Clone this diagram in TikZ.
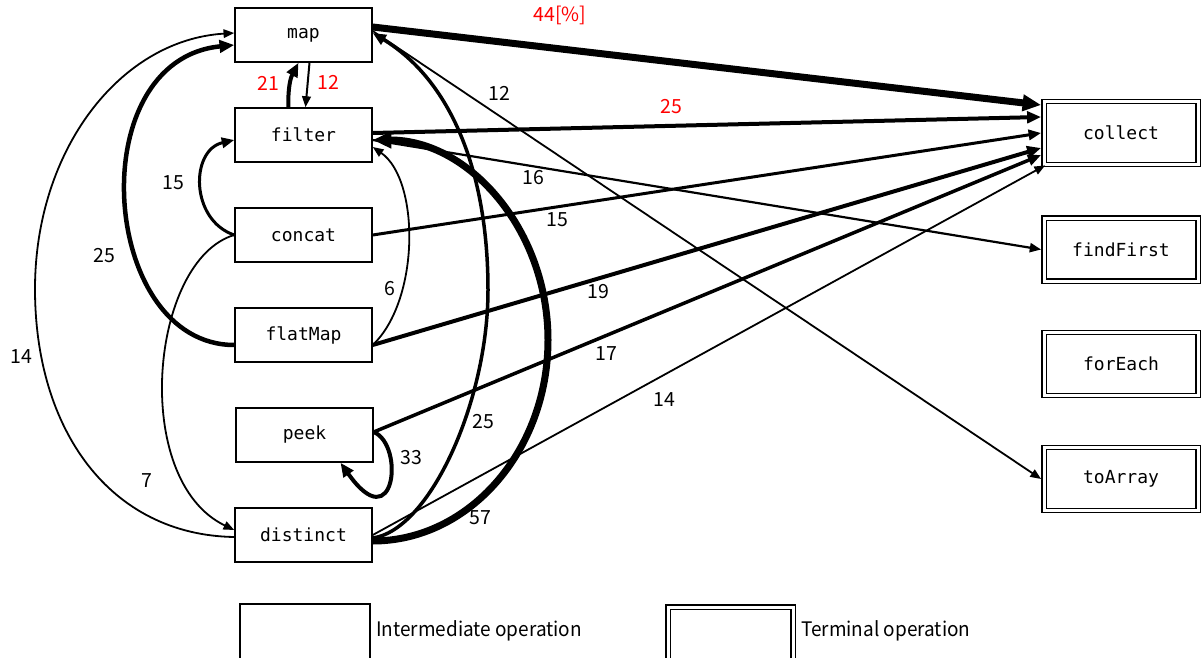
\documentclass[tikz,border=0pt]{standalone}
\usepackage{fontspec}
\usetikzlibrary{arrows.meta,calc}
\newfontfamily\monof{DejaVu Sans Mono}
\newfontfamily\lblf{Noto Sans CJK JP}
\newfontfamily\legf[FakeStretch=0.95]{Noto Sans CJK JP}
\begin{document}
\begin{tikzpicture}[x=1pt,y=-1pt,
  inter/.style={draw, line width=1.5pt, minimum width=137pt, minimum height=54pt, inner sep=0pt, font=\monof\fontsize{18}{20}\selectfont},
  term/.style={draw, double, line width=1.4pt, double distance=3pt, outer sep=2.9pt, minimum width=154pt, minimum height=63pt, inner sep=0pt, font=\monof\fontsize{18}{20}\selectfont},
  lbl/.style={font=\lblf\fontsize{19.5}{22}\selectfont, inner sep=0pt},
  rlbl/.style={lbl, text=red},
  edge/.style={-{Triangle[length=8pt 1.5, width=6pt 1.4]}, line width=#1},
  legtext/.style={font=\legf\fontsize{20}{22}\selectfont, inner sep=0pt, anchor=west}
]
\useasboundingbox (0,0) rectangle (1202,658);

% intermediate operations
\node[inter] (map)      at (303.5,35)  {map};
\node[inter] (filter)   at (303.5,135) {filter};
\node[inter] (concat)   at (303.5,235) {concat};
\node[inter] (flatMap)  at (303.5,335) {flatMap};
\node[inter] (peek)     at (304.5,435) {peek};
\node[inter] (distinct) at (303.5,535) {distinct};

% terminal operations
\node[term] (collect)   at (1121,133)   {collect};
\node[term] (findFirst) at (1121,249.5) {findFirst};
\node[term] (forEach)   at (1121,364)   {forEach};
\node[term] (toArray)   at (1121,479)   {toArray};

% edges
\draw[edge=7] ($(map.east)+(0,-8)$) -- ($(collect.west)+(0,-28)$);
\draw[edge=1.8] ($(map.east)+(0,-4)$) -- (toArray.west);
\draw[edge=4] ($(filter.north)+(-15,0)$) to[bend left=15] ($(map.south)+(-5,0)$);
\draw[edge=2] ($(map.south)+(6,0)$) -- ($(filter.north)+(2,0)$);
\draw[edge=4] ($(filter.east)+(0,-2)$) -- ($(collect.west)+(0,-16)$);
\draw[edge=2.2] ($(filter.east)+(0,5)$) -- (findFirst.west);
\draw[edge=3] (concat.west) .. controls (190,220) and (190,150) .. ($(filter.west)+(0,5)$);
\draw[edge=3] (concat.east) -- (collect.west);
\draw[edge=1.8] (concat.west) .. controls (150,260) and (130,480) .. ($(distinct.west)+(0,-5)$);
\draw[edge=4.5] ($(flatMap.west)+(0,10)$) .. controls (100,345) and (80,60) .. ($(map.west)+(0,10)$);
\draw[edge=1.8] ($(flatMap.east)+(0,10)$) .. controls (420,300) and (420,180) .. ($(filter.east)+(0,12)$);
\draw[edge=4] ($(flatMap.east)+(0,10)$) -- ($(collect.west)+(0,15)$);
\draw[edge=3.5] ($(peek.east)+(0,-3)$) -- ($(collect.west)+(0,22)$);
\draw[edge=4] ($(peek.east)+(0,-3)$) .. controls (405,445) and (395,540) .. ($(peek.south)+(36,0)$);
\draw[edge=3.5] ($(distinct.east)+(0,3)$) .. controls (430,530) and (488,401) .. (488,290)
   .. controls (488,170) and (450,80) .. ($(map.east)+(0,-2)$);
\draw[edge=7] ($(distinct.east)+(0,6)$) .. controls (469,541) and (548,451) .. (548,340)
   .. controls (548,230) and (469,140) .. ($(filter.east)+(0,5)$);
\draw[edge=1.8] (distinct.east) -- ($(collect.south west)+(4,-2)$);
\draw[edge=1.8] ($(distinct.west)+(0,2)$) .. controls (110,535) and (35,430) .. (35,289)
   .. controls (35,150) and (120,40) .. ($(map.west)+(0,-2)$);

% edge labels
\node[rlbl] (l1) at (560,15) {44[\%]};
\node[rlbl] (l2) at (268,83) {21};
\node[rlbl] (l3) at (328,82) {12};
\node[lbl] (l4) at (499,93) {12};
\node[rlbl] (l5) at (671,107) {25};
\node[lbl] (l6) at (533,178) {16};
\node[lbl] (l7) at (173,183) {15};
\node[lbl] (l8) at (557,220) {15};
\node[lbl] (l9) at (104,256) {25};
\node[lbl] (l10) at (390,289) {6};
\node[lbl] (l11) at (598,292) {19};
\node[lbl] (l12) at (21,357) {14};
\node[lbl] (l13) at (606,354) {17};
\node[lbl] (l14) at (664,400) {14};
\node[lbl] (l15) at (483,422) {25};
\node[lbl] (l16) at (411,458) {33};
\node[lbl] (l17) at (147,481) {7};
\node[lbl] (l18) at (480,518) {57};

% legend
\node[draw, line width=1.5pt, minimum width=130pt, minimum height=56pt, inner sep=0pt] (legI) at (305,632) {};
\node[legtext] (legIt) at (376,631) {Intermediate operation};
\node[draw, double, line width=1.4pt, double distance=3pt, minimum width=125pt, minimum height=58pt, inner sep=0pt] (legT) at (730.5,636) {};
\node[legtext] (legTt) at (801,631) {Terminal operation};
\end{tikzpicture}
\end{document}
